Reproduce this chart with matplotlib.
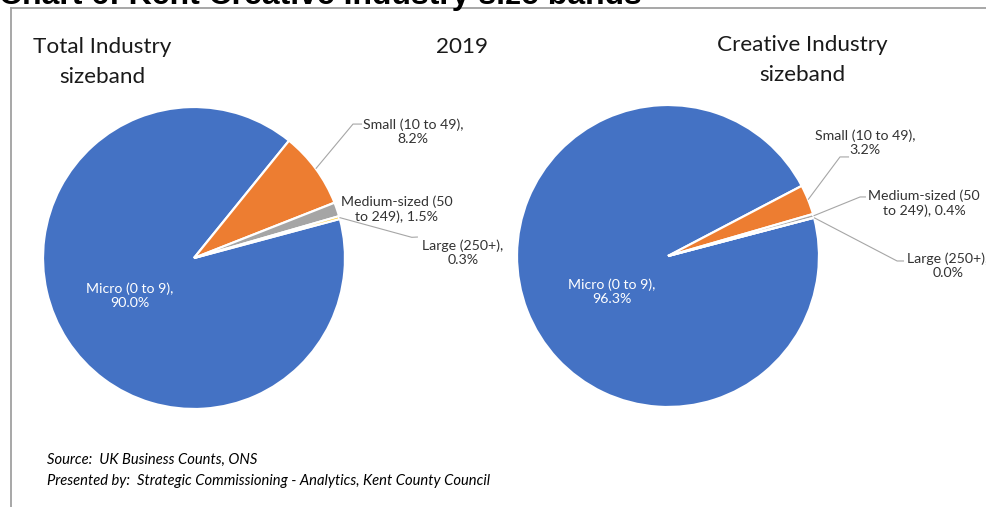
import numpy as np
import matplotlib
matplotlib.use("Agg")
import matplotlib.pyplot as plt
from matplotlib.lines import Line2D

W, H = 987, 507

# Business counts by size band, share of all enterprises (%)
categories = ["Micro (0 to 9)", "Small (10 to 49)", "Medium-sized (50 to 249)", "Large (250+)"]
total_share = [90.0, 8.2, 1.5, 0.3]
creative_share = [96.3, 3.2, 0.4, 0.0]

label_formats = [
    "Micro (0 to 9),\n{}",
    "Small (10 to 49),\n{}",
    "Medium-sized (50\nto 249), {}",
    "Large (250+),\n{}",
]
slice_colors = ["#4472C4", "#ED7D31", "#A5A5A5", "#FFC000"]

LABEL_FONT = "Lato"
TITLE_FONT = "Liberation Sans"


def px_box(cx, cy, r):
    """Axes rectangle (figure fraction) for a pie centred at pixel (cx, cy)."""
    return [(cx - r) / W, 1 - (cy + r) / H, 2 * r / W, 2 * r / H]


def draw_pie(fig, box, values, start, layout):
    ax = fig.add_axes(box)
    wedges, _ = ax.pie(values, colors=slice_colors, startangle=start,
                       counterclock=False,
                       wedgeprops=dict(edgecolor="white", linewidth=1.6))
    ax.set_xlim(-1, 1)
    ax.set_ylim(-1, 1)
    ax.set_aspect("equal")
    ax.axis("off")
    for i, (w, v) in enumerate(zip(wedges, values)):
        text = label_formats[i].format(f"{v:.1f}%")
        (tx, ty), leader = layout[i]
        color = "white" if i == 0 else "#333333"
        ax.text(tx, ty, text, ha="center", va="center", multialignment="center",
                fontsize=10.2, color=color, family=LABEL_FONT, linespacing=1.2)
        if leader:
            mid = np.deg2rad((w.theta1 + w.theta2) / 2)
            x0, y0 = np.cos(mid), np.sin(mid)
            (ex, ey), (hx, hy) = leader
            ax.plot([x0, ex, hx], [y0, ey, hy], color="#A6A6A6", lw=0.8,
                    clip_on=False, solid_capstyle="butt")
    return ax


fig = plt.figure(figsize=(W / 100, H / 100), dpi=100)
fig.patch.set_facecolor("white")

# Chart title (sits above the frame, running off the top edge)
fig.text(-1 / W, 1 - 4 / H, "Chart 6: Kent Creative Industry size bands",
         family=TITLE_FONT, fontweight="bold", fontsize=23, color="black",
         ha="left", va="baseline")

# Frame of the chart area
fig.add_artist(Line2D([11 / W, 1.01], [1 - 8 / H, 1 - 8 / H],
                      transform=fig.transFigure, color="#A0A0A0", lw=1.3))
fig.add_artist(Line2D([11 / W, 11 / W], [1 - 8 / H, -0.01],
                      transform=fig.transFigure, color="#A0A0A0", lw=1.3))

# Total industry pie
total_layout = [
    ((-0.424, -0.252), None),
    ((1.450, 0.834), ((1.053, 0.887), (1.113, 0.887))),
    ((1.344, 0.325), None),
    ((1.781, 0.033), ((1.442, 0.137), (1.483, 0.139))),
]
draw_pie(fig, px_box(194, 258, 151), total_share, 15, total_layout)

# Creative industry pie
creative_layout = [
    ((-0.371, -0.238), None),
    ((1.305, 0.748), ((1.139, 0.656), (1.199, 0.656))),
    ((1.695, 0.351), ((1.272, 0.391), (1.311, 0.391))),
    ((1.854, -0.066), ((1.517, -0.033), (1.563, -0.033))),
]
draw_pie(fig, px_box(668, 256, 151), creative_share, 14.7, creative_layout)

# Headings
heading_kw = dict(family=LABEL_FONT, fontsize=16.2, color="#1a1a1a",
                  ha="center", va="center", multialignment="center",
                  linespacing=1.6)
fig.text(102 / W, 1 - 62 / H, "Total Industry\nsizeband", **heading_kw)
fig.text(462 / W, 1 - 47 / H, "2019", **heading_kw)
fig.text(802 / W, 1 - 60 / H, "Creative Industry\nsizeband", **heading_kw)

# Source notes
note_kw = dict(family=LABEL_FONT, style="italic", fontsize=10.6, color="black",
               ha="left", va="center")
fig.text(47 / W, 1 - 460 / H, "Source:  UK Business Counts, ONS", **note_kw)
fig.text(47 / W, 1 - 481 / H,
         "Presented by:  Strategic Commissioning - Analytics, Kent County Council",
         **note_kw)

fig.savefig("out.png", dpi=100, facecolor="white")
